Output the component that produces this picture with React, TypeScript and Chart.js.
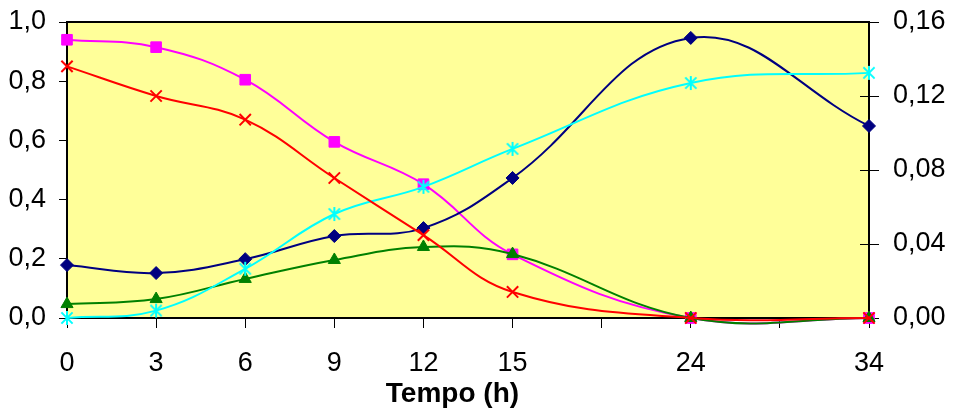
import React, { useEffect, useRef } from 'react';
import { Chart, registerables } from 'chart.js';

Chart.register(...registerables);

// Time categories (empty strings are unlabeled category slots on the axis)
const categories = ['0', '3', '6', '9', '12', '15', '', '24', '', '34'];

// Left axis series (0 – 1,0)
const magentaSeries = [0.94, 0.915, 0.805, 0.595, 0.452, 0.215, null, 0, null, 0];
const redSeries = [0.85, 0.75, 0.67, 0.473, 0.28, 0.088, null, 0, null, 0];
const greenSeries = [0.047, 0.064, 0.132, 0.196, 0.24, 0.216, null, 0, null, 0];

// Right axis series (0 – 0,16)
const navySeries = [0.0286, 0.0243, 0.0318, 0.0443, 0.0486, 0.0757, null, 0.1514, null, 0.1038];
const cyanSeries = [0, 0.004, 0.0266, 0.0562, 0.0709, 0.0914, null, 0.127, null, 0.1325];

const leftMax = 1.0;
const leftStep = 0.2;
const rightMax = 0.16;
const rightStep = 0.04;
const xTitle = 'Tempo (h)';

function makeStar(color: string, size: number) {
  const c = document.createElement('canvas');
  c.width = size;
  c.height = size;
  const ctx = c.getContext('2d')!;
  ctx.strokeStyle = color;
  ctx.lineWidth = 2;
  const m = size / 2;
  const r = size / 2 - 1;
  const d = r * 0.8;
  ctx.beginPath();
  ctx.moveTo(m, m - r);
  ctx.lineTo(m, m + r);
  ctx.moveTo(m - d, m - d);
  ctx.lineTo(m + d, m + d);
  ctx.moveTo(m + d, m - d);
  ctx.lineTo(m - d, m + d);
  ctx.stroke();
  return c;
}

const plotPlugin = {
  id: 'plotDecor',
  beforeDraw(chart: any) {
    const { ctx, chartArea: a } = chart;
    ctx.save();
    ctx.fillStyle = '#FFFF99';
    ctx.fillRect(a.left, a.top, a.right - a.left, a.bottom - a.top);
    ctx.restore();
  },
  beforeDatasetsDraw(chart: any) {
    const { ctx, chartArea: a } = chart;
    ctx.save();
    ctx.strokeStyle = '#000';
    ctx.lineWidth = 2;
    ctx.strokeRect(a.left, a.top, a.right - a.left, a.bottom - a.top);
    // inner part of right-axis ticks
    const y1 = chart.scales.y1;
    ctx.lineWidth = 1;
    ctx.beginPath();
    for (const t of y1.ticks) {
      const py = Math.round(y1.getPixelForValue(t.value)) + 0.5;
      ctx.moveTo(a.right - 9, py);
      ctx.lineTo(a.right, py);
    }
    ctx.stroke();
    ctx.restore();
  },
};

export default function App() {
  const ref = useRef<HTMLCanvasElement>(null);

  useEffect(() => {
    const font = { family: '"Liberation Sans", Arial, sans-serif', size: 27 };
    const star = makeStar('#00FFFF', 16);
    const noPadV = (w: number) => (s: any) => {
      s.width = w;
      s.paddingTop = 0;
      s.paddingBottom = 0;
    };
    const chart = new Chart(ref.current!, {
      type: 'line',
      data: {
        labels: categories,
        datasets: [
          {
            data: redSeries,
            yAxisID: 'y',
            borderColor: '#FF0000',
            backgroundColor: '#FF0000',
            pointStyle: 'crossRot',
            pointRadius: 8,
            pointBorderWidth: 2,
            borderWidth: 2,
            clip: false,
          },
          {
            data: cyanSeries,
            yAxisID: 'y1',
            borderColor: '#00FFFF',
            backgroundColor: '#00FFFF',
            pointStyle: star as any,
            pointRadius: 8,
            borderWidth: 2,
            clip: false,
          },
          {
            data: navySeries,
            yAxisID: 'y1',
            borderColor: '#000080',
            backgroundColor: '#000080',
            pointStyle: 'rectRot',
            pointRadius: 6.5,
            pointBorderWidth: 1,
            borderWidth: 2,
            clip: false,
          },
          {
            data: greenSeries,
            yAxisID: 'y',
            borderColor: '#008000',
            backgroundColor: '#008000',
            pointStyle: 'triangle',
            pointRadius: 7,
            pointBorderWidth: 1,
            borderWidth: 2,
            clip: false,
          },
          {
            data: magentaSeries,
            yAxisID: 'y',
            borderColor: '#FF00FF',
            backgroundColor: '#FF00FF',
            pointStyle: 'rect',
            pointRadius: 7.5,
            pointBorderWidth: 1,
            borderWidth: 2,
            clip: false,
          },
        ],
      },
      options: {
        responsive: false,
        animation: false,
        spanGaps: true,
        elements: { line: { tension: 0.4, capBezierPoints: false } },
        layout: { padding: { top: 22, left: 0, right: 0, bottom: 0 } },
        plugins: { legend: { display: false }, tooltip: { enabled: false } },
        scales: {
          x: {
            type: 'category',
            offset: false,
            grid: { display: true, drawOnChartArea: false, drawTicks: true, tickLength: 10, color: '#000' },
            border: { display: true, color: '#000', width: 2 },
            ticks: { font, color: '#000', padding: 19, maxRotation: 0, autoSkip: false },
            title: {
              display: true,
              text: xTitle + '\u00A0\u00A0\u00A0\u00A0',
              font: { family: font.family, size: 28, weight: 'bold' },
              color: '#000',
              padding: { top: 0, bottom: 3 },
            },
            afterFit: (s: any) => {
              s.height = 96;
              s.paddingLeft = 0;
              s.paddingRight = 0;
            },
          },
          y: {
            position: 'left',
            min: 0,
            max: leftMax,
            grid: { display: true, drawOnChartArea: false, drawTicks: true, tickLength: 8, color: '#000' },
            border: { display: true, color: '#000', width: 2 },
            ticks: {
              font,
              color: '#000',
              padding: 13,
              stepSize: leftStep,
              callback: (v: any) => Number(v).toFixed(1).replace('.', ','),
            },
            afterFit: noPadV(67),
          },
          y1: {
            position: 'right',
            min: 0,
            max: rightMax,
            grid: { display: true, drawOnChartArea: false, drawTicks: true, tickLength: 10, color: '#000' },
            border: { display: true, color: '#000', width: 2 },
            ticks: {
              font,
              color: '#000',
              padding: 14,
              stepSize: rightStep,
              callback: (v: any) => Number(v).toFixed(2).replace('.', ','),
            },
            afterFit: noPadV(86),
          },
        },
      },
      plugins: [plotPlugin],
    });
    return () => chart.destroy();
  }, []);

  return (
    <div style={{ position: 'absolute', left: 0, top: 0, width: 955, height: 414, background: '#fff' }}>
      <canvas ref={ref} width={955} height={414} />
    </div>
  );
}
